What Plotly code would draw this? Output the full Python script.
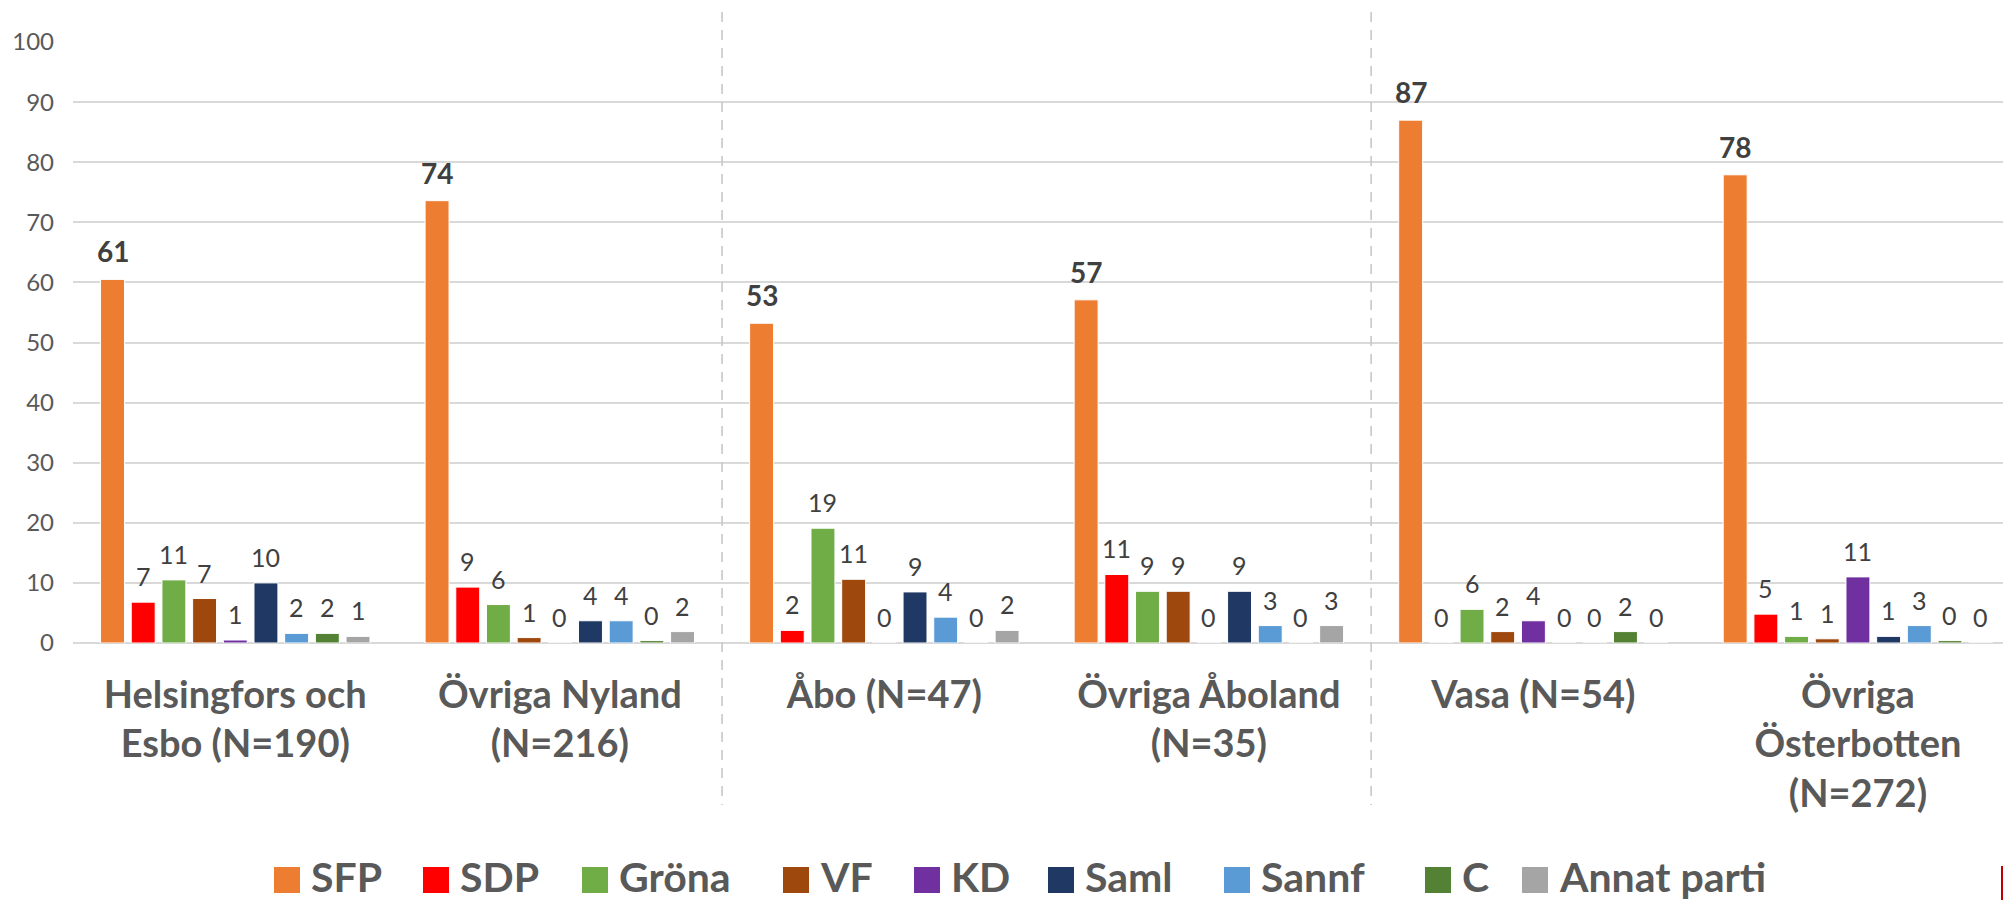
import plotly.graph_objects as go

regions = ["Helsingfors och<br>Esbo (N=190)", "Övriga Nyland<br>(N=216)", "Åbo (N=47)",
           "Övriga Åboland<br>(N=35)", "Vasa (N=54)", "Övriga<br>Österbotten<br>(N=272)"]

parties = ["SFP", "SDP", "Gröna", "VF", "KD", "Saml", "Sannf", "C", "Annat parti"]

sfp = [60.5, 73.6, 53.2, 57.1, 87.0, 77.9]
sdp = [6.8, 9.3, 2.1, 11.4, 0.0, 4.8]
grona = [10.5, 6.4, 19.1, 8.6, 5.6, 1.1]
vf = [7.4, 0.9, 10.6, 8.6, 1.9, 0.7]
kd = [0.5, 0.0, 0.0, 0.0, 3.7, 11.0]
saml = [10.0, 3.7, 8.5, 8.6, 0.0, 1.1]
sannf = [1.6, 3.7, 4.3, 2.9, 0.0, 2.9]
c = [1.6, 0.4, 0.0, 0.0, 1.9, 0.4]
annat = [1.1, 1.9, 2.1, 2.9, 0.0, 0.0]

series = [sfp, sdp, grona, vf, kd, saml, sannf, c, annat]
colors = ["#ED7D31", "#FF0000", "#70AD47", "#9E480E", "#7030A0",
          "#203864", "#5B9BD5", "#548235", "#A5A5A5"]

FONT = "Lato, 'Open Sans', sans-serif"
BARGAP = 0.149
GROUPGAP = 0.22
X_MIN, X_MAX = -0.5, 5.447
W, H = 2003, 900
ML, MT, MB = 73, 42, 257

x_pos = list(range(len(regions)))

fig = go.Figure()
for name, vals, col in zip(parties, series, colors):
    fig.add_trace(go.Bar(
        x=x_pos, y=vals, name=name, marker=dict(color=col, line=dict(color="white", width=1)),
        showlegend=False, hoverinfo="skip"))

# data labels (annotations positioned over grouped bar centres)
n = len(series)
slot = (1 - BARGAP) / n
annotations = []
for j, vals in enumerate(series):
    for i, v in enumerate(vals):
        lab = str(int(v + 0.5))
        bold = j == 0
        annotations.append(dict(
            x=i + (j - (n - 1) / 2) * slot, y=v, xref="x", yref="y",
            text=f"<b>{lab}</b>" if bold else lab, showarrow=False,
            yanchor="bottom", xanchor="center", yshift=9,
            font=dict(family=FONT, size=28 if bold else 25, color="#404040")))

# custom legend (large square swatches)
plot_w = W - ML
plot_h = H - MT - MB
def px_x(px):
    return (px - ML) / plot_w
def px_y(py):
    return (H - MB - py) / plot_h

legend_sq_left = [274, 423, 582, 783, 914, 1048, 1224, 1425, 1522]
shapes = []
for name, col, lx in zip(parties, colors, legend_sq_left):
    shapes.append(dict(type="rect", xref="paper", yref="paper",
                       x0=px_x(lx), x1=px_x(lx + 26), y0=px_y(893), y1=px_y(867),
                       fillcolor=col, line=dict(width=0)))
    annotations.append(dict(x=px_x(lx + 35), y=px_y(876), xref="paper", yref="paper",
                            text=f"<b>{name}</b>", showarrow=False, xanchor="left",
                            yanchor="middle",
                            font=dict(family=FONT, size=41, color="#595959")))

# dashed separators between region pairs
for sep in [1.5, 3.5]:
    xp = (sep - X_MIN) / (X_MAX - X_MIN)
    shapes.append(dict(type="line", xref="paper", yref="paper", x0=xp, x1=xp,
                       y0=px_y(12), y1=px_y(805),
                       line=dict(color="#C8C8C8", width=1.6, dash="10px,8px")))

# cropped edge element at the right
shapes.append(dict(type="line", xref="paper", yref="paper", x0=px_x(2002), x1=px_x(2002),
                   y0=px_y(866), y1=px_y(900), line=dict(color="#C00000", width=2)))

fig.update_layout(
    width=W, height=H,
    margin=dict(l=ML, r=0, t=MT, b=MB, pad=0),
    paper_bgcolor="white", plot_bgcolor="white",
    barmode="group", bargap=BARGAP, bargroupgap=GROUPGAP,
    annotations=annotations, shapes=shapes,
    xaxis=dict(tickvals=x_pos, ticktext=[f"<b>{r}</b>" for r in regions],
               range=[X_MIN, X_MAX], showgrid=False, zeroline=False, showline=False,
               ticks="", ticklabelstandoff=26,
               tickfont=dict(family=FONT, size=38, color="#595959")),
    yaxis=dict(range=[0, 100], dtick=10, showgrid=True, gridcolor="#D9D9D9", gridwidth=1.5,
               zeroline=True, zerolinecolor="#D9D9D9", zerolinewidth=2, showline=False,
               ticks="", ticklabelstandoff=18,
               tickfont=dict(family=FONT, size=24, color="#595959")),
    showlegend=False,
)

fig.write_html("out.html", config={"displayModeBar": False},
               post_script="document.body.style.margin='0';document.body.style.overflow='hidden';")
